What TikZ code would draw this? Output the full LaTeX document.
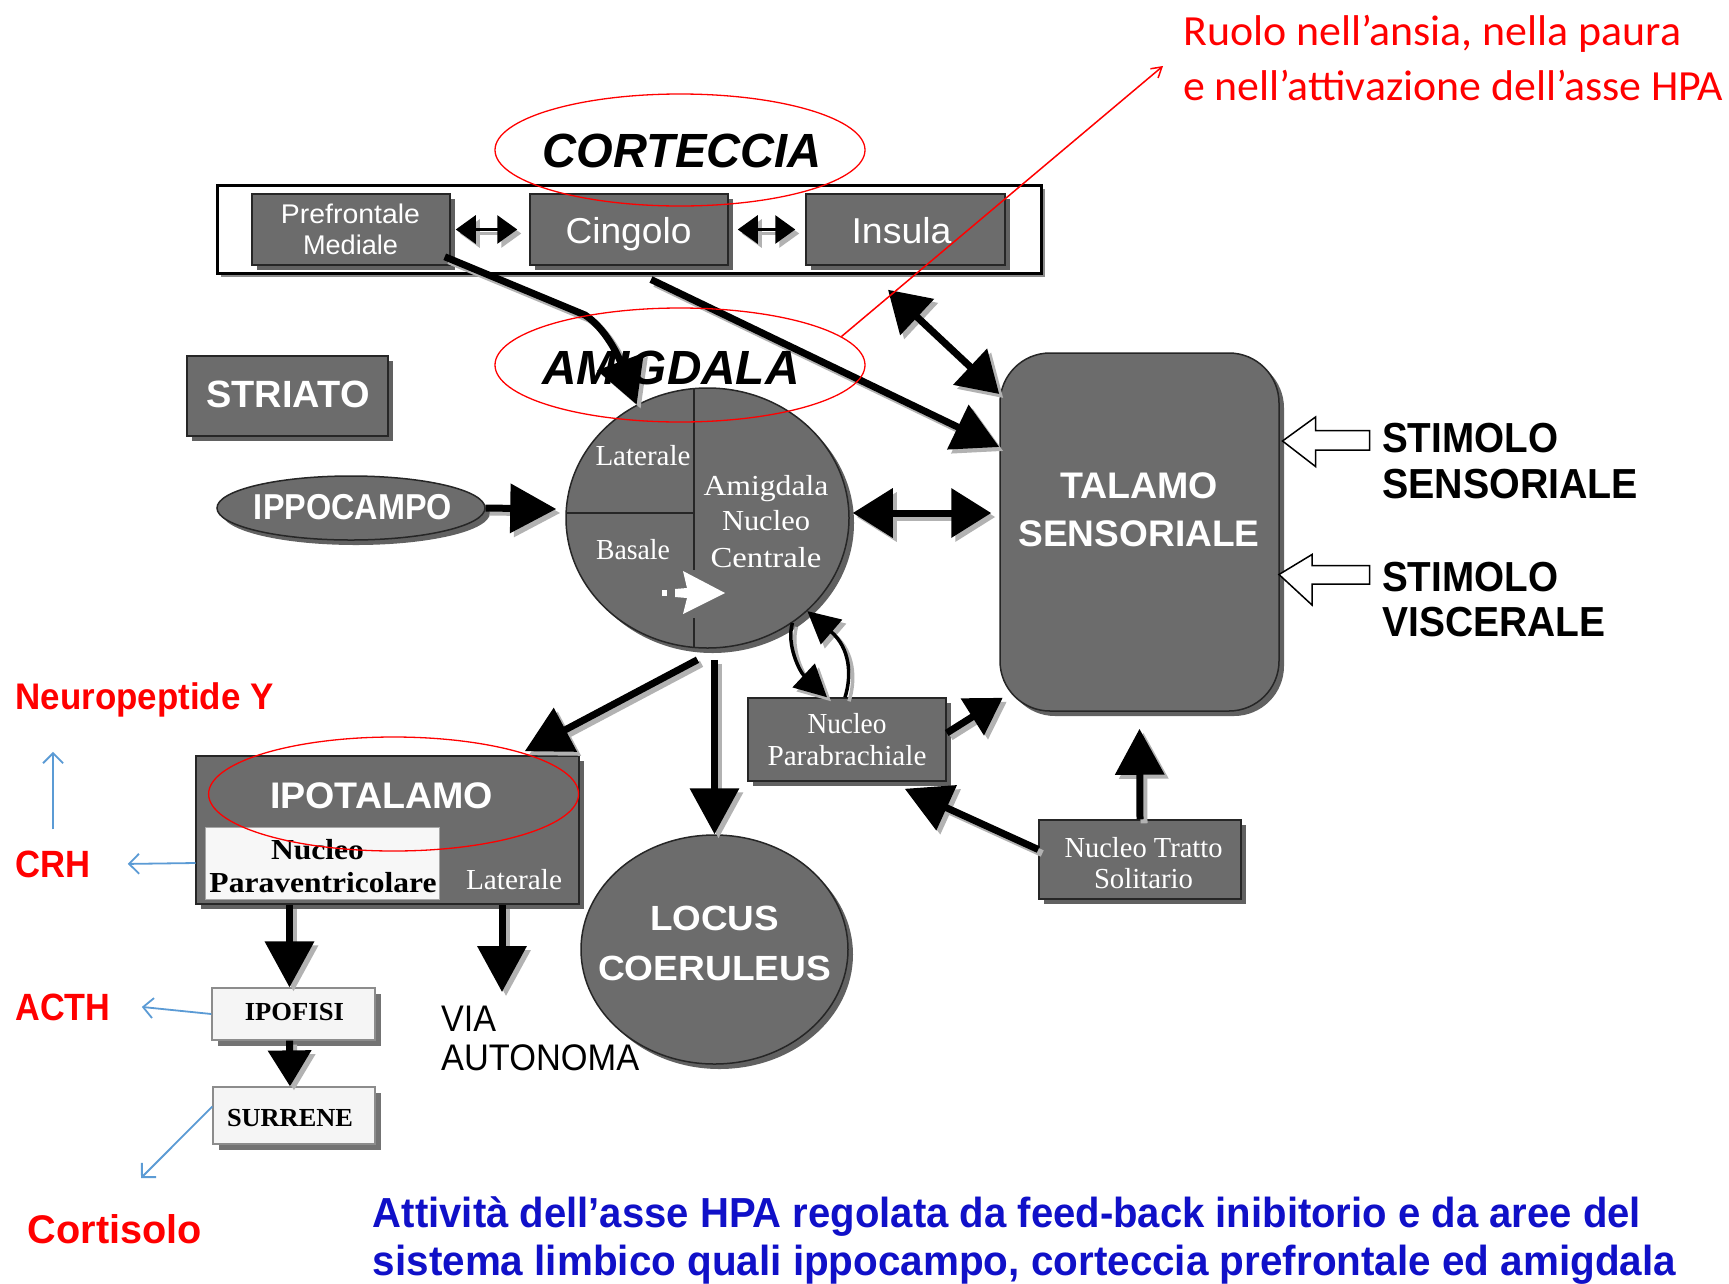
\documentclass[tikz,border=0pt]{standalone}
\usepackage{fontspec}
\setmainfont{Liberation Sans}
\newfontfamily\arialf{Liberation Sans}
\newfontfamily\timesf{Liberation Serif}
\newfontfamily\calibf{Carlito}
\usetikzlibrary{arrows.meta,shapes.geometric,shadows}
\newcommand\fsz[1]{\fontsize{#1}{#1}\selectfont}
\newcommand\hfit[2]{\resizebox{#1pt}{\height}{#2}}
\newcommand\shdraw[2]{\begin{scope}[transform canvas={shift={(4pt,-4pt)}}]\draw[#1,draw=black!30] #2;\end{scope}\draw[#1] #2;}
\definecolor{bgray}{RGB}{108,108,108}
\definecolor{lblue}{RGB}{91,155,213}
\definecolor{dblue}{RGB}{16,16,200}
\tikzset{
 shd/.style={drop shadow={shadow xshift=5pt,shadow yshift=-5pt,opacity=1,fill=black!62}},
 gbox/.style={rectangle,fill=bgray,draw=black!85,line width=1.5pt,inner sep=0pt,shd},
 gell/.style={ellipse,fill=bgray,draw=black!85,line width=1.5pt,inner sep=0pt,shd},
 wbox/.style={rectangle,fill=black!4,draw=black!45,line width=1.2pt,inner sep=0pt,
   drop shadow={shadow xshift=6pt,shadow yshift=-6pt,opacity=1,fill=black!55}},
 redell/.style={ellipse,draw=red,line width=1.3pt,inner sep=0pt},
 txt/.style={inner sep=0pt,anchor=base},
 wt/.style={txt,text=white},
 hdr/.style={txt,font=\arialf\bfseries\itshape\fsz{48}},
 wbold/.style={wt,font=\arialf\bfseries\fsz{37}},
 wtimes/.style={wt,font=\timesf\fsz{29}},
 arw/.style={line width=7pt,-{Triangle[length=46pt,width=48pt]}},
 sarw/.style={line width=7pt,-{Triangle[length=36pt,width=42pt]}},
 darw/.style={line width=7pt,{Triangle[length=40pt,width=48pt]}-{Triangle[length=40pt,width=48pt]}},
 sdarw/.style={line width=3pt,{Triangle[length=20pt,width=28pt]}-{Triangle[length=20pt,width=28pt]}},
 carw/.style={line width=3.5pt,-{Triangle[length=32pt,width=32pt]}},
 barw/.style={draw=lblue,line width=1.8pt,-{Straight Barb[length=10pt,width=20pt]}},
 redarw/.style={draw=red,line width=1.5pt,-{Straight Barb[length=10pt,width=12pt]}},
 hollow/.style={fill=white,draw=black,line width=1.5pt}
}
\begin{document}
\begin{tikzpicture}[x=1pt,y=-1pt]
\fill[white] (0,0) rectangle (1729,1283);
\useasboundingbox (0,0) rectangle (1729,1283);

% ---- cortex bar
\node[rectangle,fill=white,draw=black,line width=3pt,minimum width=824pt,minimum height=88pt,inner sep=0pt,
  drop shadow={shadow xshift=4pt,shadow yshift=-4pt,opacity=1,fill=black!45}] (bar) at (629,229) {};
\node[gbox,minimum width=198pt,minimum height=71pt] (pfm) at (351,229.5) {};
\node[gbox,minimum width=198pt,minimum height=71pt] (cing) at (629,229.5) {};
\node[gbox,minimum width=199pt,minimum height=71pt] (ins) at (905.5,229.5) {};
\node[wt,font=\arialf\fsz{27}] (pfmt1) at (350.5,223) {\hfit{139}{Prefrontale}};
\node[wt,font=\arialf\fsz{27}] (pfmt2) at (350.5,254) {\hfit{95}{Mediale}};
\node[wt,font=\arialf\fsz{36}] (cingt) at (628.5,243.5) {\hfit{126}{Cingolo}};
\node[wt,font=\arialf\fsz{36}] (inst) at (901.5,243.5) {\hfit{100}{Insula}};
\shdraw{sdarw,shorten <=5pt,shorten >=12pt}{(pfm.east) -- (cing.west)}
\shdraw{sdarw,shorten <=9pt,shorten >=10pt}{(cing.east) -- (ins.west)}

% ---- striato, ippocampo
\node[gbox,minimum width=201pt,minimum height=80pt] (str) at (287.5,396) {};
\node[wbold,font=\arialf\bfseries\fsz{38}] (strt) at (288,407.6) {\hfit{163}{STRIATO}};
\node[gell,minimum width=268pt,minimum height=64pt] (ippo) at (351,508) {};
\node[wbold,font=\arialf\bfseries\fsz{36}] (ippot) at (353,519) {\hfit{198}{IPPOCAMPO}};

% ---- amygdala
\node[gell,minimum width=283pt,minimum height=260pt] (amy) at (707.5,518) {};
\draw[black!85,line width=1.8pt] (693.6,389) -- (693.6,570) (693.6,618) -- (693.6,647) (566,513) -- (693.6,513);
\fill[white] (725,593) -- (683,571) -- (687,588) -- (675,589) -- (675,597) -- (687,598) -- (683,614) -- cycle;
\fill[white] (662,590) rectangle (667,596);
\node[wtimes] (latt) at (643,465.5) {\hfit{95}{Laterale}};
\node[wtimes] (bast) at (633,559) {\hfit{74}{Basale}};
\node[wtimes] (amt1) at (766,495) {\hfit{125}{Amigdala}};
\node[wtimes] (amt2) at (766,530.5) {\hfit{88}{Nucleo}};
\node[wtimes] (amt3) at (766,567) {\hfit{111}{Centrale}};

% ---- talamo
\node[gbox,rounded corners=50pt,minimum width=279pt,minimum height=358pt] (tal) at (1139.5,532) {};
\node[wbold] (talt1) at (1139,498) {\hfit{158}{TALAMO}};
\node[wbold] (talt2) at (1139,546) {\hfit{241}{SENSORIALE}};

% ---- stimuli
\draw[hollow] (1282.5,441) -- (1315.5,417) -- (1315.5,430.5) -- (1369.5,430.5) -- (1369.5,450) -- (1315.5,450) -- (1315.5,466.5) -- cycle;
\draw[hollow] (1279,574.5) -- (1312,554.5) -- (1312,565.5) -- (1369.5,565.5) -- (1369.5,584) -- (1312,584) -- (1312,605) -- cycle;
\node[txt,anchor=base west,font=\arialf\bfseries\fsz{42}] (st1) at (1382,452) {\hfit{176}{STIMOLO}};
\node[txt,anchor=base west,font=\arialf\bfseries\fsz{42}] (st2) at (1382,498) {\hfit{256}{SENSORIALE}};
\node[txt,anchor=base west,font=\arialf\bfseries\fsz{42}] (st3) at (1382,591) {\hfit{176}{STIMOLO}};
\node[txt,anchor=base west,font=\arialf\bfseries\fsz{42}] (st4) at (1382,636) {\hfit{223}{VISCERALE}};

% ---- ipotalamo
\node[gbox,minimum width=383pt,minimum height=148pt] (ipot) at (387.5,830) {};
\node[rectangle,fill=black!3,draw=black!35,line width=1pt,minimum width=234pt,minimum height=72pt,inner sep=0pt] (pv) at (322,863) {};
\node[wbold] (ipott) at (381.5,808) {\hfit{223}{IPOTALAMO}};
\node[txt,font=\timesf\bfseries\fsz{29}] (pvt1) at (317.5,859) {\hfit{93}{Nucleo}};
\node[txt,font=\timesf\bfseries\fsz{29}] (pvt2) at (323,892) {\hfit{227}{Paraventricolare}};
\node[wtimes] (ilat) at (514,889) {\hfit{96}{Laterale}};

% ---- locus
\node[gell,minimum width=267pt,minimum height=229pt] (locus) at (714.5,949.5) {};
\node[wbold,font=\arialf\bfseries\fsz{35}] (loct1) at (714.5,930) {\hfit{129}{LOCUS}};
\node[wbold,font=\arialf\bfseries\fsz{35}] (loct2) at (714.5,980) {\hfit{233}{COERULEUS}};

% ---- ipofisi, surrene
\node[wbox,minimum width=163pt,minimum height=52pt] (ipof) at (293.5,1014) {};
\node[txt,font=\timesf\bfseries\fsz{26}] (ipoft) at (294.4,1020.5) {\hfit{99}{IPOFISI}};
\node[wbox,minimum width=162pt,minimum height=57pt] (surr) at (294,1115.5) {};
\node[txt,font=\timesf\bfseries\fsz{26}] (surrt) at (290,1126.5) {\hfit{126}{SURRENE}};

% ---- via autonoma
\node[txt,anchor=base west,font=\arialf\fsz{37}] (via1) at (441,1031) {\hfit{55}{VIA}};
\node[txt,anchor=base west,font=\arialf\fsz{37}] (via2) at (441,1070) {\hfit{198}{AUTONOMA}};
\coordinate (viatop) at (502,992);

% ---- parabrachiale, NTS
\node[gbox,minimum width=198pt,minimum height=83pt] (pb) at (847,739.5) {};
\node[wtimes] (pbt1) at (847,733.4) {\hfit{79}{Nucleo}};
\node[wtimes] (pbt2) at (847,765) {\hfit{159}{Parabrachiale}};
\node[gbox,minimum width=202pt,minimum height=79pt] (nts) at (1140,859.5) {};
\node[wtimes] (ntst1) at (1143.5,857) {\hfit{158}{Nucleo Tratto}};
\node[wtimes] (ntst2) at (1143.5,888) {\hfit{99}{Solitario}};

% ---- black arrows
\shdraw{arw}{([xshift=-6pt,yshift=9pt]pfm.south east) -- (585,315) .. controls (605,328) and (618,355) .. (amy.122)}
\shdraw{arw}{([xshift=22pt,yshift=-5pt]bar.south) -- ([yshift=85pt]tal.west)}
\shdraw{darw}{([xshift=-17.5pt,yshift=-24pt]ins.south) -- ([yshift=138pt]tal.west)}
\shdraw{arw}{(ippo.east) -- ([xshift=-9pt,yshift=9pt]amy.west)}
\shdraw{darw}{([xshift=3pt,yshift=5pt]amy.east) -- ([xshift=-8pt,yshift=19pt]tal.west)}
\shdraw{arw}{([xshift=-10pt,yshift=-11pt]amy.south) -- ([xshift=-55pt,yshift=4pt]ipot.north east)}
\shdraw{arw}{([xshift=7pt,yshift=-11pt]amy.south) -- (locus.north)}
\shdraw{arw}{([xshift=-4pt]ipof.north |- ipot.south) -- ([xshift=-4pt]ipof.north)}
\shdraw{arw}{([xshift=114.5pt]ipot.south) -- (viatop)}
\shdraw{sarw}{([xshift=-4pt]ipof.south) -- ([xshift=-4pt]surr.north)}
\shdraw{arw}{(nts.north) -- ([yshift=-17pt]tal.south)}
\shdraw{arw}{([yshift=10pt]nts.west) -- ([xshift=-42pt,yshift=-7pt]pb.south east)}
\shdraw{sarw}{([yshift=6.5pt]pb.east) -- ([xshift=3.5pt,yshift=14pt]tal.south west)}
\shdraw{carw}{([xshift=-2pt]pb.north) .. controls (852,675) and (850,648) .. (amy.-43)}
\shdraw{carw}{(amy.-51) .. controls (786,645) and (800,672) .. ([xshift=-20pt]pb.north)}

% ---- header texts and red ellipses
\node[hdr] (cortt) at (682,167.5) {\hfit{279}{CORTECCIA}};
\node[hdr] (amyt) at (671,384.5) {\hfit{257}{AMIGDALA}};
\node[redell,minimum width=370pt,minimum height=112pt] (corell) at (680,150) {};
\node[redell,minimum width=370pt,minimum height=114pt] (amyell) at (680,365) {};
\node[redell,minimum width=370pt,minimum height=114pt] (ipoell) at (393.6,794) {};

% ---- red annotation
\node[txt,anchor=base west,text=red,font=\calibf\fsz{43}] (ruolo1) at (1183,45) {\hfit{498}{Ruolo nell’ansia, nella paura}};
\node[txt,anchor=base west,text=red,font=\calibf\fsz{43}] (ruolo2) at (1183,100) {\hfit{540}{e nell’attivazione dell’asse HPA}};
\coordinate (rtip) at (1163,66);
\draw[redarw] (amyell.10) -- (rtip);

% ---- hormones
\node[txt,anchor=base west,text=red,font=\arialf\bfseries\fsz{37}] (npy) at (15.4,709) {\hfit{258}{Neuropeptide Y}};
\node[txt,anchor=base west,text=red,font=\arialf\bfseries\fsz{38}] (crh) at (15.4,877) {\hfit{75}{CRH}};
\node[txt,anchor=base west,text=red,font=\arialf\bfseries\fsz{38}] (acth) at (15.4,1020) {\hfit{95}{ACTH}};
\node[txt,anchor=base west,text=red,font=\arialf\bfseries\fsz{40}] (cortis) at (27.6,1243) {\hfit{174}{Cortisolo}};
\coordinate (corttip) at (141,1178);
\draw[barw] ([yshift=21pt]crh.north) -- ([yshift=-35pt]crh.north |- npy.south);
\draw[barw] ([xshift=-9pt]pv.west) -- ([xshift=37pt]crh.east);
\draw[barw] (ipof.west) -- ([xshift=31pt]acth.east);
\draw[barw] ([yshift=9pt]surr.west) -- (corttip);

% ---- bottom text
\node[txt,anchor=base west,text=dblue,font=\arialf\bfseries\fsz{42}] (blue1) at (372.7,1227) {\hfit{1268}{Attività dell’asse HPA regolata da feed-back inibitorio e da aree del}};
\node[txt,anchor=base west,text=dblue,font=\arialf\bfseries\fsz{42}] (blue2) at (372.7,1275) {\hfit{1303}{sistema limbico quali ippocampo, corteccia prefrontale ed amigdala}};
\end{tikzpicture}
\end{document}
